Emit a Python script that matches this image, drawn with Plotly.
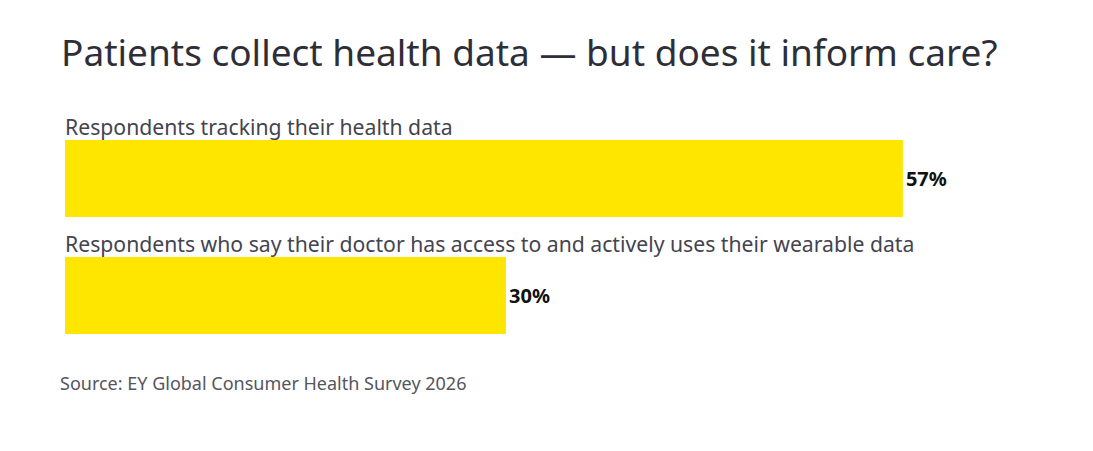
import plotly.graph_objects as go

# chart data
categories = [
    "Respondents tracking their health data",
    "Respondents who say their doctor has access to and actively uses their wearable data",
]
values = [57, 30]
value_labels = ["57%", "30%"]

title_text = "Patients collect health data \u2014 but does it inform care?"
source_text = "Source: EY Global Consumer Health Survey 2026"

FONT = "Noto Sans"
YELLOW = "#FFE600"

# the page adds an 8px body margin, so pixel targets are shifted by -8
L, T, PH = 57, 112, 234
W, H = 1093, 451
PW = W - L

fig = go.Figure()
fig.add_trace(go.Bar(
    x=values,
    y=categories,
    orientation="h",
    marker=dict(color=YELLOW, line=dict(width=0)),
    width=0.66,
    text=value_labels,
    textposition="outside",
    texttemplate="<b>%{text}</b>",
    textfont=dict(family=FONT, size=20, color="#111111"),
    cliponaxis=False,
    hoverinfo="skip",
))

# category labels sit above each bar
for cat in categories:
    fig.add_annotation(
        x=0, y=cat, xref="x", yref="y",
        text=cat, showarrow=False,
        xanchor="left", yanchor="middle",
        xshift=-2, yshift=52,
        font=dict(family=FONT, size=21.2, color="#44444f"),
    )

fig.add_annotation(
    x=-6 / PW, y=1 + (T - 44) / PH, xref="paper", yref="paper",
    text=title_text, showarrow=False,
    xanchor="left", yanchor="middle",
    font=dict(family=FONT, size=37, color="#2e2e38"),
)

fig.add_annotation(
    x=-7 / PW, y=-(375 - T - PH) / PH, xref="paper", yref="paper",
    text=source_text, showarrow=False,
    xanchor="left", yanchor="middle",
    font=dict(family=FONT, size=18, color="#555560"),
)

fig.update_layout(
    width=W, height=H,
    margin=dict(l=L, r=0, t=T, b=H - T - PH, pad=0),
    paper_bgcolor="white",
    plot_bgcolor="white",
    showlegend=False,
    xaxis=dict(range=[0, PW / 14.7], visible=False, fixedrange=True),
    yaxis=dict(visible=False, range=[1.5, -0.5], fixedrange=True),
    font=dict(family=FONT),
)

fig.write_html("out.html")
